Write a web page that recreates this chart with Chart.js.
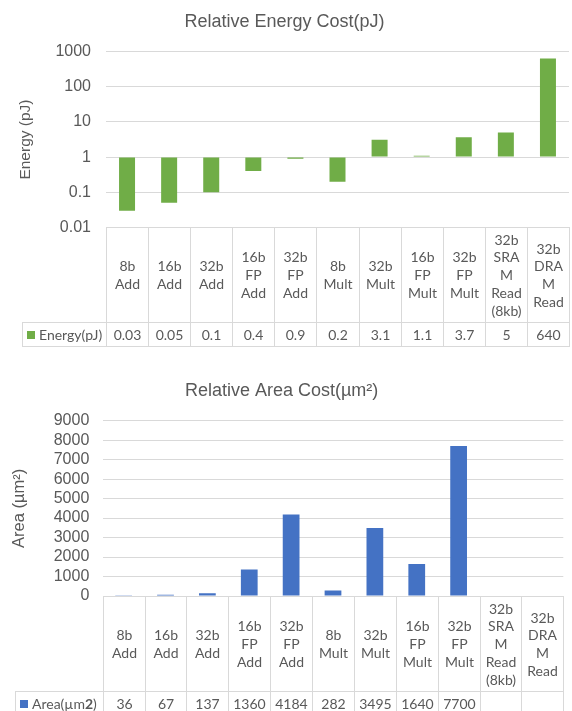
<!DOCTYPE html>
<html>
<head>
<meta charset="utf-8">
<script src="https://cdn.jsdelivr.net/npm/chart.js@4.4.1/dist/chart.umd.min.js"></script>
<style>
  body { margin: 0; width: 572px; height: 711px; overflow: hidden; background: #fff; position: relative; }
  canvas { position: absolute; left: 0; }
  .cell { position: absolute; box-sizing: border-box; border: 1px solid #d9d9d9; display: flex;
          align-items: center; justify-content: center; text-align: center; color: #595959;
          font-family: Lato, 'Noto Sans', sans-serif; font-size: 14px; line-height: 17.7px; }
  .legend { justify-content: flex-start; padding-left: 4px; white-space: nowrap; }
  .swatch { display: inline-block; width: 8px; height: 8px; margin-right: 4px; }
</style>
</head>
<body>
<canvas id="energyChart" width="572" height="239" style="top:0"></canvas>
<canvas id="areaChart" width="572" height="238" style="top:370px"></canvas>
<script>
// categories and wrapped header text used in the data tables
const categories = ['8b Add', '16b Add', '32b Add', '16b FP Add', '32b FP Add', '8b Mult',
  '32b Mult', '16b FP Mult', '32b FP Mult', '32b SRAM Read (8kb)', '32b DRAM Read']
const headerLines = [['8b', 'Add'], ['16b', 'Add'], ['32b', 'Add'], ['16b', 'FP', 'Add'],
  ['32b', 'FP', 'Add'], ['8b', 'Mult'], ['32b', 'Mult'], ['16b', 'FP', 'Mult'],
  ['32b', 'FP', 'Mult'], ['32b', 'SRA', 'M', 'Read', '(8kb)'], ['32b', 'DRA', 'M', 'Read']]

// series values
const energy = [0.03, 0.05, 0.1, 0.4, 0.9, 0.2, 3.1, 1.1, 3.7, 5, 640]
const area = [36, 67, 137, 1360, 4184, 282, 3495, 1640, 7700, null, null]

// tick values / labels
const energyTicks = [0.01, 0.1, 1, 10, 100, 1000]
const energyTickLabels = ['0.01', '0.1', '1', '10', '100', '1000']
const areaTicks = [0, 1000, 2000, 3000, 4000, 5000, 6000, 7000, 8000, 9000]

const textColor = '#595959'
const gridColor = '#d9d9d9'
const axisFont = 'Liberation Sans, Arial, sans-serif'

const titleOpts = (text, top) => ({
  display: true,
  text: text,
  color: textColor,
  font: { family: axisFont, size: 18, weight: 'normal' },
  padding: { top: top, bottom: 18.9 }
})

// x axis kept but takes no room, the data table replaces it
const hiddenX = {
  ticks: { display: false },
  grid: { display: false, drawTicks: false },
  border: { display: false }
}

// energy chart, log scale, bars grow from 1
const energyChart = new Chart(document.getElementById('energyChart'), {
  type: 'bar',
  data: {
    labels: categories,
    datasets: [{
      label: 'Energy(pJ)',
      data: energy,
      base: 1,
      backgroundColor: '#70AD47',
      barPercentage: 0.38,
      categoryPercentage: 1
    }]
  },
  options: {
    responsive: false,
    maintainAspectRatio: false,
    animation: false,
    events: [],
    layout: { padding: { left: 0, right: 3, top: 0, bottom: 12 } },
    plugins: {
      legend: { display: false },
      tooltip: { enabled: false },
      title: titleOpts('Relative Energy Cost(pJ)', 11.2)
    },
    scales: {
      x: hiddenX,
      y: {
        type: 'logarithmic',
        min: 0.01,
        max: 1000,
        afterBuildTicks: s => { s.ticks = energyTicks.map(v => ({ value: v })) },
        afterFit: s => { s.width = 106 },
        ticks: {
          padding: 15,
          autoSkip: false,
          color: textColor,
          font: { family: axisFont, size: 16 },
          callback: (v, i) => energyTickLabels[i]
        },
        grid: { color: gridColor, drawTicks: false },
        border: { display: false },
        title: {
          display: true,
          text: 'Energy (pJ)',
          color: textColor,
          font: { family: axisFont, size: 15.5 },
          padding: { top: 16.7, bottom: 0 }
        }
      }
    }
  }
})

// area chart, linear scale
const areaChart = new Chart(document.getElementById('areaChart'), {
  type: 'bar',
  data: {
    labels: categories,
    datasets: [{
      label: 'Area(µm2)',
      data: area,
      backgroundColor: '#4472C4',
      barPercentage: 0.4,
      categoryPercentage: 1
    }]
  },
  options: {
    responsive: false,
    maintainAspectRatio: false,
    animation: false,
    events: [],
    layout: { padding: { left: 0, right: 8.7, top: 0, bottom: 12 } },
    plugins: {
      legend: { display: false },
      tooltip: { enabled: false },
      title: titleOpts('Relative Area Cost(µm²)', 10.2)
    },
    scales: {
      x: hiddenX,
      y: {
        min: 0,
        max: 9000,
        afterBuildTicks: s => { s.ticks = areaTicks.map(v => ({ value: v })) },
        afterFit: s => { s.width = 102.7 },
        ticks: {
          padding: 13.4,
          autoSkip: false,
          color: textColor,
          font: { family: axisFont, size: 16 },
          callback: v => String(v)
        },
        grid: { color: gridColor, drawTicks: false },
        border: { display: false },
        title: {
          display: true,
          text: 'Area (µm²)',
          color: textColor,
          font: { family: axisFont, size: 16.5 },
          padding: { top: 9.1, bottom: 0 }
        }
      }
    }
  }
})

// grow the canvas until the plot bottom sits where the table starts
const fitBottom = (chart, target) => {
  for (let k = 0; k < 4; k++) {
    let diff = target - chart.chartArea.bottom
    if (Math.abs(diff) < 0.5) break
    chart.resize(chart.width, Math.round(chart.height + diff))
  }
}
fitBottom(energyChart, 227)
fitBottom(areaChart, 226)

const addCell = (left, top, width, height, html, cls) => {
  let d = document.createElement('div')
  d.className = 'cell' + (cls ? ' ' + cls : '')
  d.style.left = Math.round(left) + 'px'
  d.style.top = Math.round(top) + 'px'
  d.style.width = (Math.round(left + width) - Math.round(left) + 1) + 'px'
  d.style.height = (Math.round(top + height) - Math.round(top) + 1) + 'px'
  d.innerHTML = html
  document.body.appendChild(d)
}

// data table under a chart, columns taken from the chart's x scale
const buildTable = (chart, canvasTop, headerH, rowH, legendLeft, color, name, values) => {
  let ca = chart.chartArea,
      xs = chart.scales.x,
      colW = (ca.right - ca.left) / categories.length,
      top = canvasTop + ca.bottom
  categories.forEach((c, i) => {
    let left = xs.getPixelForValue(i) - colW / 2
    addCell(left, top, colW, headerH, headerLines[i].join('<br>'))
    let v = values[i]
    addCell(left, top + headerH, colW, rowH, v === null ? '' : String(v))
  })
  addCell(legendLeft, top + headerH, ca.left - legendLeft, rowH,
    `<span class="swatch" style="background:${color}"></span>${name}`, 'legend')
}

buildTable(energyChart, 0, 95, 24, 22, '#70AD47', 'Energy(pJ)', energy)
buildTable(areaChart, 370, 94.7, 24, 15, '#4472C4', 'Area(µm<b>2</b>)', area)
</script>
</body>
</html>
